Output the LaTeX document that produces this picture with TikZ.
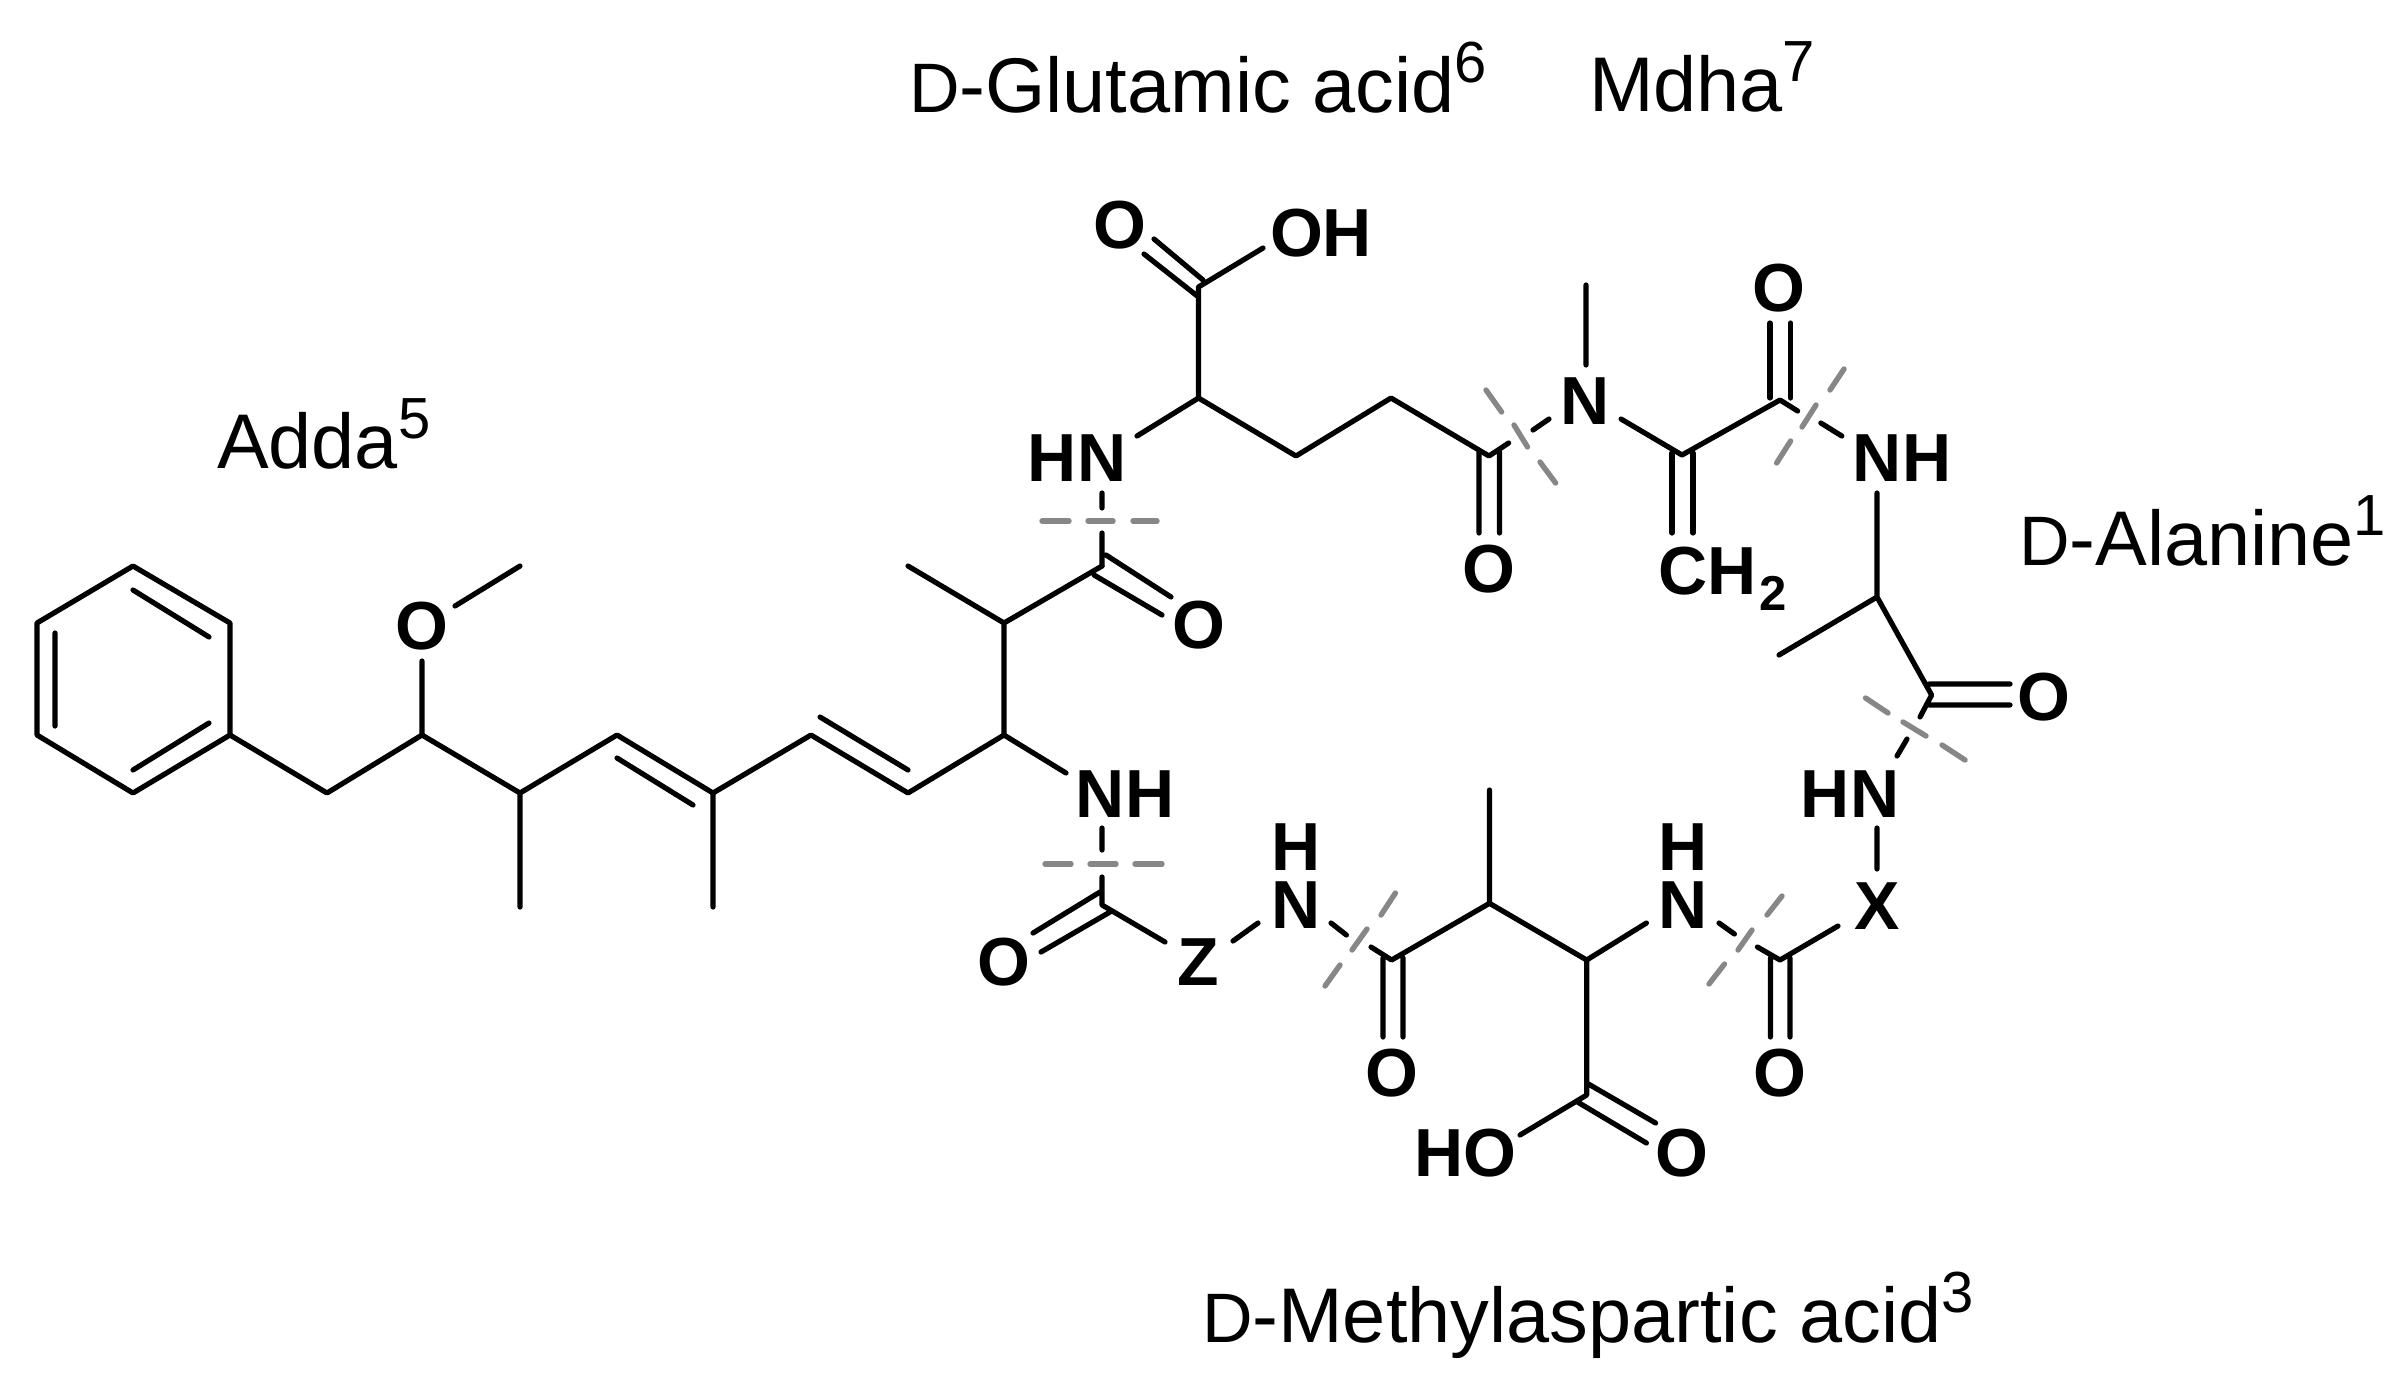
\documentclass[tikz,border=0pt]{standalone}
\usepackage{fontspec}
\setmainfont{Liberation Sans}
\newcommand{\Pt}[3]{\coordinate (#1) at (#2,#3);}
\newcommand{\Sc}[1]{{\fontsize{70}{72}\selectfont #1}}
\newcommand{\Up}[1]{\raisebox{30pt}{\fontsize{58}{60}\selectfont #1}}
\tikzset{
  bond/.style={draw=black,line width=5.2pt,line cap=round,line join=round},
  cut/.style={draw=black!47,line width=5.4pt,line cap=round},
  atom/.style={inner sep=0pt,outer sep=0pt,text=black,font=\fontsize{68}{70}\selectfont\bfseries},
  stack/.style={atom,align=center,font=\fontsize{68}{58}\selectfont\bfseries},
  unit/.style={inner sep=0pt,outer sep=0pt,anchor=base west,text=black,font=\fontsize{77.5}{80}\selectfont}
}
\begin{document}
\begin{tikzpicture}[x=1pt,y=-1pt]
\useasboundingbox (0,0) rectangle (2405,1379);
% skeleton
\Pt{r1}{133}{566}\Pt{r2}{230}{623}\Pt{r3}{230}{735}\Pt{r4}{133}{793}\Pt{r5}{37}{735}\Pt{r6}{37}{623}
\Pt{ia1}{133}{590}\Pt{ia2}{209}{637}\Pt{ib1}{55}{633}\Pt{ib2}{55}{726}\Pt{ic1}{209}{723}\Pt{ic2}{133}{770}
\Pt{c1}{327}{793}\Pt{c2}{422}{735}\Pt{c3}{520}{793}\Pt{c4}{617}{735}\Pt{c5}{713}{793}\Pt{c6}{811}{735}\Pt{c7}{908}{793}\Pt{c8}{1004}{735}\Pt{c9}{1004}{623}\Pt{c10}{1102}{566}
\Pt{m9}{908}{566}\Pt{m3}{520}{907}\Pt{m5}{713}{907}
\Pt{ao}{422}{661}\Pt{om1}{455}{606}\Pt{om2}{520}{566}
\Pt{d4a}{617}{758}\Pt{d4b}{693}{805}\Pt{d6a}{820}{717}\Pt{d6b}{908}{770}
\Pt{c8n}{1066}{773}
\Pt{s1a}{1102}{828}\Pt{s1b}{1102}{850}\Pt{s2a}{1102}{877}\Pt{c11}{1102}{905}
\Pt{e1a}{1100}{892}\Pt{e1b}{1033}{933}\Pt{e2a}{1110}{912}\Pt{e2b}{1041}{952}
\Pt{zb}{1165}{942}\Pt{zn1}{1233}{941}\Pt{zn2}{1258}{923}
\Pt{t1}{1102}{493}\Pt{t2}{1102}{508}\Pt{t3}{1102}{533}\Pt{t4}{1102}{566}
\Pt{f1a}{1106}{555}\Pt{f1b}{1171}{597}\Pt{f2a}{1094}{575}\Pt{f2b}{1162}{615}
\Pt{g1}{1198.5}{398}\Pt{g2}{1296}{456}\Pt{g3}{1391}{398}\Pt{g4}{1489}{456}
\Pt{gn}{1137}{436}\Pt{g0}{1198.5}{287}
\Pt{h1a}{1154}{239}\Pt{h1b}{1203}{280}\Pt{h2a}{1144}{254}\Pt{h2b}{1198.5}{297}\Pt{ho}{1263}{248}
\Pt{k1a}{1479}{452}\Pt{k1b}{1479}{533}\Pt{k2a}{1499.5}{452}\Pt{k2b}{1499.5}{533}
\Pt{l1}{1508.6}{443}\Pt{l2}{1533}{430}\Pt{l3}{1549}{419}
\Pt{nm1}{1586}{285}\Pt{nm2}{1586}{365}\Pt{nb}{1621}{419}\Pt{p1}{1682}{455}\Pt{p2}{1780}{400}
\Pt{q1a}{1672}{453}\Pt{q1b}{1672}{533}\Pt{q2a}{1693}{453}\Pt{q2b}{1693}{533}
\Pt{u1a}{1770}{323}\Pt{u1b}{1770}{398}\Pt{u2a}{1790.6}{323}\Pt{u2b}{1790.6}{398}
\Pt{v1}{1797.6}{411}\Pt{v2}{1820.8}{423}\Pt{v3}{1841.8}{436}
\Pt{w0}{1877}{493}\Pt{w1}{1877}{597}\Pt{wm}{1779}{655}\Pt{w2}{1931.6}{695}
\Pt{y1a}{1929}{684}\Pt{y1b}{2010}{684}\Pt{y2a}{1929}{705}\Pt{y2b}{2010}{705}
\Pt{w3}{1920}{717}\Pt{w4}{1907}{739}\Pt{w5}{1897}{756}
\Pt{x1}{1877}{828}\Pt{x2}{1877}{869}\Pt{x3}{1838}{926}\Pt{a1}{1780}{960}
\Pt{a2}{1757.4}{947}\Pt{a3}{1734.4}{934}\Pt{a4}{1719}{923}
\Pt{b1a}{1770.4}{958}\Pt{b1b}{1770.4}{1037}\Pt{b2a}{1790}{958}\Pt{b2b}{1790}{1037}
\Pt{a5}{1646.4}{923}\Pt{a6}{1586.7}{960}\Pt{a7}{1489.5}{903.3}\Pt{a8}{1391.6}{960}\Pt{am}{1489.5}{790}
\Pt{a9}{1371}{947}\Pt{a10}{1346.4}{935}\Pt{a11}{1331}{923}
\Pt{n1a}{1383}{958}\Pt{n1b}{1383}{1037}\Pt{n2a}{1403}{958}\Pt{n2b}{1403}{1037}
\Pt{a12}{1586.7}{1095}\Pt{a13}{1520}{1135}
\Pt{j1a}{1586.7}{1083}\Pt{j1b}{1655.6}{1123}\Pt{j2a}{1577.5}{1102}\Pt{j2b}{1646.4}{1143}
% atoms
\node[atom] (O1) at (422,626) {O};
\node[atom] (NH1) at (1125,794) {NH};
\node[atom] (O2) at (1004,962) {O};
\node[atom] (Z) at (1198,962) {Z};
\node[stack] (HN3) at (1296,876.5) {H\\N};
\node[stack] (HN4) at (1683,876.5) {H\\N};
\node[atom] (O3) at (1392,1073) {O};
\node[atom] (O4) at (1780,1073) {O};
\node[atom] (X) at (1877,906) {X};
\node[atom] (HN1) at (1850,794) {HN};
\node[atom] (HO) at (1465,1153) {HO};
\node[atom] (O5) at (1682,1153) {O};
\node[atom] (O6) at (2044,697) {O};
\node[atom] (NH2) at (1902,458) {NH};
\node[atom] (O7) at (1779,288) {O};
\node[atom,anchor=base west] (CH) at (1658,594) {CH\kern3pt\raisebox{-16pt}{\fontsize{49}{50}\selectfont 2}};
\node[atom] (N4) at (1585,401) {N};
\node[atom] (O8) at (1489,569) {O};
\node[atom] (HN2) at (1077,458) {HN};
\node[atom] (OH) at (1321,233) {OH};
\node[atom] (O9) at (1120,225) {O};
\node[atom] (O10) at (1199,625) {O};
% bonds
\draw[bond] (r1)--(r2)--(r3)--(r4)--(r5)--(r6)--cycle;
\draw[bond] (ia1)--(ia2) (ib1)--(ib2) (ic1)--(ic2);
\draw[bond] (r3)--(c1)--(c2)--(c3)--(c4)--(c5)--(c6)--(c7)--(c8)--(c9)--(c10) (c9)--(m9);
\draw[bond] (c2)--(ao) (om1)--(om2) (c3)--(m3) (c5)--(m5) (d4a)--(d4b) (d6a)--(d6b) (c8)--(c8n);
\draw[bond] (s1a)--(s1b) (s2a)--(c11)--(zb) (e1a)--(e1b) (e2a)--(e2b) (zn1)--(zn2);
\draw[bond] (t1)--(t2) (t3)--(t4) (f1a)--(f1b) (f2a)--(f2b);
\draw[bond] (gn)--(g1)--(g2)--(g3)--(g4)--(l1) (g1)--(g0) (h1a)--(h1b) (h2a)--(h2b) (g0)--(ho);
\draw[bond] (k1a)--(k1b) (k2a)--(k2b) (l2)--(l3) (nm1)--(nm2) (nb)--(p1)--(p2)--(v1) (v2)--(v3);
\draw[bond] (q1a)--(q1b) (q2a)--(q2b) (u1a)--(u1b) (u2a)--(u2b);
\draw[bond] (w0)--(w1)--(w2)--(w3) (w1)--(wm) (y1a)--(y1b) (y2a)--(y2b) (w4)--(w5);
\draw[bond] (x1)--(x2) (x3)--(a1)--(a2) (a3)--(a4) (b1a)--(b1b) (b2a)--(b2b);
\draw[bond] (a5)--(a6)--(a7)--(a8)--(a9) (a10)--(a11) (a7)--(am) (n1a)--(n1b) (n2a)--(n2b);
\draw[bond] (a6)--(a12)--(a13) (j1a)--(j1b) (j2a)--(j2b);
% cut marks
\draw[cut] (1042,521)--(1069,521) (1088,521)--(1113,521) (1133,521)--(1157,521);
\draw[cut] (1045,864)--(1071,864) (1090,864)--(1116,864) (1135,864)--(1162,864);
\draw[cut] (1486,390)--(1501.6,412) (1514,425)--(1527.5,447) (1540,462)--(1555.6,483);
\draw[cut] (1844,369)--(1830,390) (1816,405)--(1802,427) (1790.6,441)--(1776.6,463);
\draw[cut] (1865.5,698)--(1888,713) (1903,722)--(1926,736) (1942,745)--(1965,760);
\draw[cut] (1395.4,893)--(1381,915) (1367,929)--(1352,950) (1340,965)--(1325,986);
\draw[cut] (1782,896)--(1767,915) (1752,930)--(1738,950) (1724.5,964)--(1709,984);
% unit names
\node[unit] (lglu) at (909,112) {\Sc{D}-Glutamic acid\Up{6}};
\node[unit] (lmdh) at (1589,111) {Mdha\Up{7}};
\node[unit] (ladd) at (217,468) {Adda\Up{5}};
\node[unit] (lala) at (2019,565) {\Sc{D}-Alanine\Up{1}};
\node[unit] (lasp) at (1202,1342) {\Sc{D}-Methylaspartic acid\Up{3}};
\end{tikzpicture}
\end{document}
